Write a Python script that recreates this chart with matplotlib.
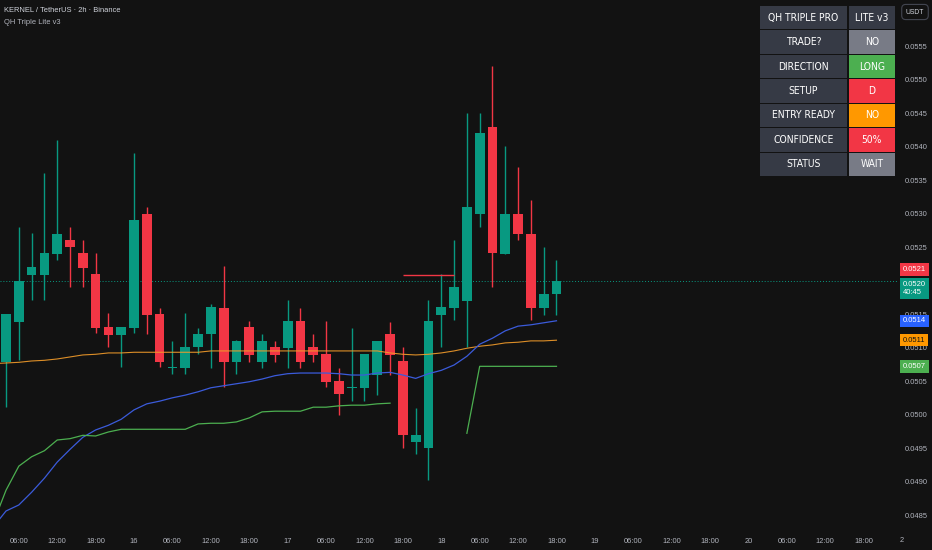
import numpy as np
import matplotlib.pyplot as plt
import matplotlib.transforms as mtransforms
from matplotlib.patches import Rectangle
from matplotlib import font_manager

# --- datos (KERNEL/USDT 2h) ---
opens = [0.05078, 0.05138, 0.05208, 0.05208, 0.05240, 0.05260, 0.05241, 0.05210, 0.05131, 0.05119,
         0.05129, 0.05299, 0.05150, 0.05070, 0.05069, 0.05101, 0.05120, 0.05159, 0.05078, 0.05131,
         0.05078, 0.05101, 0.05099, 0.05140, 0.05101, 0.05090, 0.05050, 0.05040, 0.05040, 0.05059,
         0.05120, 0.05080, 0.04959, 0.04950, 0.05149, 0.05159, 0.05169, 0.05299, 0.05429, 0.05240,
         0.05299, 0.05269, 0.05159, 0.05180]
highs = [0.05150, 0.05280, 0.05271, 0.05360, 0.05410, 0.05280, 0.05260, 0.05241, 0.05152, 0.05131,
         0.05390, 0.05310, 0.05159, 0.05110, 0.05152, 0.05129, 0.05165, 0.05222, 0.05112, 0.05140,
         0.05120, 0.05110, 0.05171, 0.05159, 0.05120, 0.05140, 0.05069, 0.05129, 0.05090, 0.05110,
         0.05138, 0.05101, 0.05010, 0.05171, 0.05210, 0.05260, 0.05450, 0.05450, 0.05520, 0.05401,
         0.05369, 0.05320, 0.05250, 0.05231]
lows = [0.05011, 0.05081, 0.05171, 0.05171, 0.05231, 0.05190, 0.05190, 0.05122, 0.05101, 0.05071,
        0.05122, 0.05120, 0.05071, 0.05060, 0.05060, 0.05090, 0.05069, 0.05041, 0.05060, 0.05078,
        0.05069, 0.05078, 0.05069, 0.05069, 0.05078, 0.05041, 0.04999, 0.05020, 0.05020, 0.05029,
        0.05059, 0.04950, 0.04941, 0.04902, 0.05101, 0.05141, 0.05101, 0.05280, 0.05190, 0.05240,
        0.05260, 0.05141, 0.05149, 0.05149]
closes = [0.05150, 0.05199, 0.05220, 0.05241, 0.05269, 0.05250, 0.05219, 0.05129, 0.05119, 0.05131,
          0.05290, 0.05149, 0.05078, 0.05071, 0.05101, 0.05120, 0.05160, 0.05078, 0.05110, 0.05089,
          0.05110, 0.05089, 0.05140, 0.05078, 0.05089, 0.05049, 0.05031, 0.05041, 0.05090, 0.05110,
          0.05089, 0.04969, 0.04970, 0.05140, 0.05160, 0.05190, 0.05310, 0.05420, 0.05241, 0.05299,
          0.05269, 0.05159, 0.05180, 0.05199]

# indicadores (desde la vela -1 hasta la 43)
ema_rapida = [0.04832, 0.04856, 0.04865, 0.04884, 0.04905, 0.04929, 0.04948, 0.04966, 0.04977, 0.04984,
              0.04993, 0.05007, 0.05016, 0.05020, 0.05025, 0.05029, 0.05034, 0.05040, 0.05043, 0.05046,
              0.05049, 0.05053, 0.05058, 0.05061, 0.05062, 0.05062, 0.05062, 0.05061, 0.05059, 0.05059,
              0.05062, 0.05063, 0.05059, 0.05054, 0.05061, 0.05066, 0.05074, 0.05087, 0.05105, 0.05114,
              0.05125, 0.05132, 0.05134, 0.05137, 0.05140]
ema_lenta = [0.05076, 0.05077, 0.05078, 0.05080, 0.05081, 0.05083, 0.05086, 0.05089, 0.05090, 0.05092,
             0.05092, 0.05093, 0.05093, 0.05093, 0.05093, 0.05093, 0.05093, 0.05095, 0.05095, 0.05095,
             0.05095, 0.05095, 0.05095, 0.05095, 0.05095, 0.05095, 0.05095, 0.05095, 0.05095, 0.05095,
             0.05095, 0.05092, 0.05090, 0.05089, 0.05090, 0.05092, 0.05095, 0.05099, 0.05102, 0.05104,
             0.05107, 0.05108, 0.05110, 0.05110, 0.05111]
trailing = [0.04838, 0.04887, 0.04923, 0.04937, 0.04946, 0.04962, 0.04964, 0.04969, 0.04968, 0.04974,
            0.04978, 0.04978, 0.04978, 0.04978, 0.04978, 0.04978, 0.04986, 0.04987, 0.04987, 0.04989,
            0.04995, 0.05004, 0.05005, 0.05005, 0.05005, 0.05011, 0.05011, 0.05013, 0.05014, 0.05014,
            0.05016, 0.05017, None, None, None, None, None, 0.04972, 0.05072, 0.05072,
            0.05072, 0.05072, 0.05072, 0.05072, 0.05072]
nivel_rojo = 0.05208
nivel_desde, nivel_hasta = 31, 35

# 0.0520 queda tapado por la etiqueta del precio actual
precios_eje = [0.0485, 0.0490, 0.0495, 0.0500, 0.0505, 0.0510, 0.0515,
               0.0525, 0.0530, 0.0535, 0.0540, 0.0545, 0.0550, 0.0555]
ticks_x = [1, 4, 7, 10, 13, 16, 19, 22, 25, 28, 31, 34, 37, 40, 43, 46, 49, 52, 55, 58, 61, 64, 67, 70]
etiquetas_x = ['06:00', '12:00', '18:00', '16', '06:00', '12:00', '18:00', '17', '06:00', '12:00',
               '18:00', '18', '06:00', '12:00', '18:00', '19', '06:00', '12:00', '18:00', '20',
               '06:00', '12:00', '18:00', '2']

filas_izq = ['QH TRIPLE PRO', 'TRADE?', 'DIRECTION', 'SETUP', 'ENTRY READY', 'CONFIDENCE', 'STATUS']
filas_der = ['LITE v3', 'NO', 'LONG', 'D', 'NO', '50%', 'WAIT']
colores_der = ['#363a45', '#787b86', '#4caf50', '#f23645', '#ff9800', '#f23645', '#787b86']

# --- estilo ---
BG = '#121212'
VERDE = '#089981'
ROJO = '#f23645'
GRIS = '#b2b5be'
plt.rcParams['font.family'] = ['Liberation Sans', 'DejaVu Sans']

# fuente estrecha para la tabla si existe
condensada = any(f.name == 'DejaVu Sans' and f.stretch == 'condensed'
                 for f in font_manager.fontManager.ttflist)
nombres = {f.name for f in font_manager.fontManager.ttflist}
if 'Liberation Sans Narrow' in nombres:
    estilo_tabla = dict(family=['Liberation Sans Narrow', 'Liberation Sans'], fontsize=8.6)
elif condensada:
    estilo_tabla = dict(family=['DejaVu Sans'], fontstretch='condensed', fontsize=7.4)
else:
    estilo_tabla = dict(family=['Liberation Sans', 'DejaVu Sans'], fontsize=7.3)

W, H = 932, 550
fig = plt.figure(figsize=(W / 100, H / 100), dpi=100, facecolor=BG)
ax = fig.add_axes([0, 22 / H, 897 / W, 528 / H])
ax.set_facecolor(BG)
for s in ax.spines.values():
    s.set_visible(False)

o = np.array(opens)
c = np.array(closes)
idx = np.arange(len(o))
sube = c >= o
col = np.where(sube, VERDE, ROJO)

# mechas y cuerpos
ax.vlines(idx, lows, highs, colors=col, linewidth=1, zorder=2)
alto = np.maximum(np.abs(c - o), 0.000012)
ax.bar(idx, alto, bottom=np.minimum(o, c), width=0.76, color=col, linewidth=0, zorder=3)

# indicadores
xi = np.arange(-1, len(o))
ax.plot(xi, ema_lenta, color='#f39c2a', lw=0.8, alpha=0.9, zorder=4)
ax.plot(xi, ema_rapida, color='#3b5bdb', lw=0.9, zorder=4)
ax.plot(xi, np.array(trailing, dtype=float), color='#4caf50', lw=0.9, zorder=4)
ax.hlines(nivel_rojo, nivel_desde, nivel_hasta, color=ROJO, lw=1, zorder=4)
ax.axhline(closes[-1], color=VERDE, ls=(0, (1, 2)), lw=0.7, zorder=1)

ax.set_xlim(-0.47, 69.6)
ax.set_ylim(0.048306, 0.05619)

ax.yaxis.tick_right()
ax.set_yticks(precios_eje)
ax.set_yticklabels([f'{p:.4f}' for p in precios_eje])
ax.tick_params(axis='y', length=0, pad=5.8, labelsize=5.4, labelcolor=GRIS)
ax.set_xticks(ticks_x[:-1])
ax.set_xticklabels(etiquetas_x[:-1])
ax.tick_params(axis='x', length=0, pad=7, labelsize=5.4, labelcolor=GRIS)
ax.text(ticks_x[-1], -13 / 528, etiquetas_x[-1], transform=ax.get_xaxis_transform(),
        ha='center', va='center', fontsize=5.4, color=GRIS, clip_on=False)

# etiquetas de precio a la derecha
trans = mtransforms.blended_transform_factory(ax.transAxes, ax.transData)


def etiqueta(precio, texto, fondo, color_txt, dy=0):
    ax.annotate(texto, xy=(1, precio), xycoords=trans, xytext=(4.3, dy), textcoords='offset points',
                ha='left', va='center', fontsize=5.5, color=color_txt, annotation_clip=False,
                bbox=dict(boxstyle='square,pad=0.35', fc=fondo, ec='none'), zorder=10)


etiqueta(nivel_rojo, '0.0521', ROJO, 'white', dy=4.2)
etiqueta(closes[-1], '0.0520\n40:45', VERDE, 'white', dy=-5.2)
etiqueta(ema_rapida[-1], '0.0514', '#2962ff', 'white')
etiqueta(ema_lenta[-1], '0.0511', '#ff9800', '#131313')
etiqueta(trailing[-1], '0.0507', '#4caf50', 'white')

# cabecera
fig.text(4 / W, 1 - 10 / H, 'KERNEL / TetherUS · 2h · Binance', fontsize=5.4, color='#d1d4dc', va='center')
fig.text(4 / W, 1 - 22 / H, 'QH Triple Lite v3', fontsize=5.4, color=GRIS, va='center')
fig.text(915 / W, 1 - 12 / H, 'USDT', fontsize=4.9, color='#d1d4dc', ha='center', va='center',
         bbox=dict(boxstyle='round,pad=0.6', fc=BG, ec='#434651', lw=0.8))

# tabla
tax = fig.add_axes([760 / W, 1 - 177 / H, 135 / W, 171 / H])
tax.set_xlim(0, 135)
tax.set_ylim(171, 0)
tax.axis('off')
rh = 171 / len(filas_izq)
for r, (izq, der, cd) in enumerate(zip(filas_izq, filas_der, colores_der)):
    top = r * rh
    tax.add_patch(Rectangle((0, top), 87, rh - 1, fc='#363a45', ec='none'))
    tax.add_patch(Rectangle((89, top), 46, rh - 1, fc=cd, ec='none'))
    tax.text(43.5, top + (rh - 1) / 2, izq, ha='center', va='center', color='white', **estilo_tabla)
    tax.text(112, top + (rh - 1) / 2, der, ha='center', va='center', color='white', **estilo_tabla)

fig.savefig('out.png', dpi=100, facecolor=BG)
